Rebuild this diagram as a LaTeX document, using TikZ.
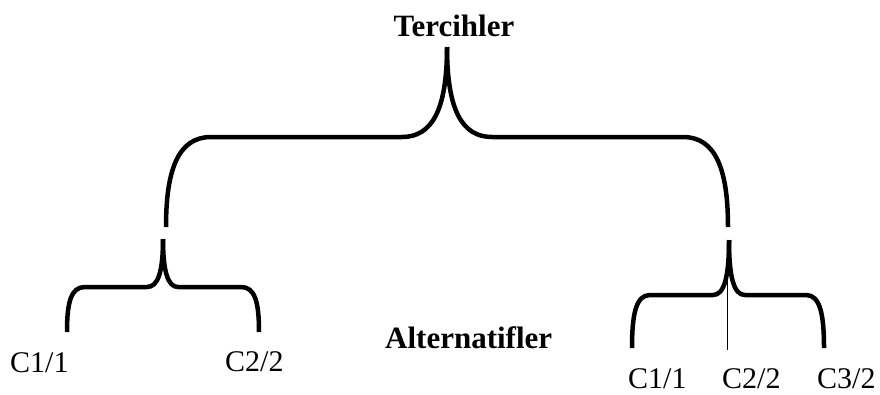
\documentclass[tikz,border=0pt]{standalone}
\usepackage{fontspec}
\setmainfont{Liberation Serif}
\begin{document}
\begin{tikzpicture}[x=1pt,y=-1pt,
  brace/.style={line width=4.5pt, line join=round},
  thinline/.style={line width=1pt},
  lbl/.style={inner sep=0pt, font=\fontsize{30}{36}\selectfont},
  title/.style={inner sep=0pt, font=\fontsize{31}{37}\selectfont\bfseries}]
\useasboundingbox (0,0) rectangle (880,394);
% texts
\node[title, anchor=base] (terc) at (454,36) {Tercihler};
\node[title, anchor=base west] (alt) at (385,348) {Alternatifler};
\node[lbl, anchor=base west] (l1) at (10,372) {C1/1};
\node[lbl, anchor=base west] (l2) at (225,371) {C2/2};
\node[lbl, anchor=base west] (r1) at (628,388) {C1/1};
\node[lbl, anchor=base west] (r2) at (722,388) {C2/2};
\node[lbl, anchor=base west] (r3) at (817,388) {C3/2};
% top brace
\coordinate (tc) at (447,47);
\coordinate (tl) at (166,227);
\coordinate (tr) at (728,227);
\draw[brace] (tl) .. controls (166,170) and (178,137) .. (211,137) -- (402,137)
  .. controls (432,137) and (447,110) .. (tc);
\draw[brace] (tr) .. controls (728,170) and (716,137) .. (683,137) -- (492,137)
  .. controls (462,137) and (447,110) .. (tc);
% lower left brace
\coordinate (lc) at (163,239);
\coordinate (ll) at (67,332);
\coordinate (lr) at (259,332);
\draw[brace] (ll) .. controls (67,302) and (71,287) .. (85,287) -- (147,287)
  .. controls (158,287) and (163,272) .. (lc);
\draw[brace] (lr) .. controls (259,302) and (255,287) .. (241,287) -- (178,287)
  .. controls (168,287) and (163,272) .. (lc);
% lower right brace
\coordinate (rc) at (729,240);
\coordinate (rl) at (632,348);
\coordinate (rr) at (824,348);
\coordinate (rm) at (727,350);
\coordinate (rmt) at (727,252);
\draw[brace] (rl) .. controls (632,314) and (636,295) .. (650,295) -- (713,295)
  .. controls (724,295) and (729,278) .. (rc);
\draw[brace] (rr) .. controls (824,314) and (820,295) .. (806,295) -- (745,295)
  .. controls (734,295) and (729,278) .. (rc);
\draw[thinline] (rmt) -- (rm);
\end{tikzpicture}
\end{document}
